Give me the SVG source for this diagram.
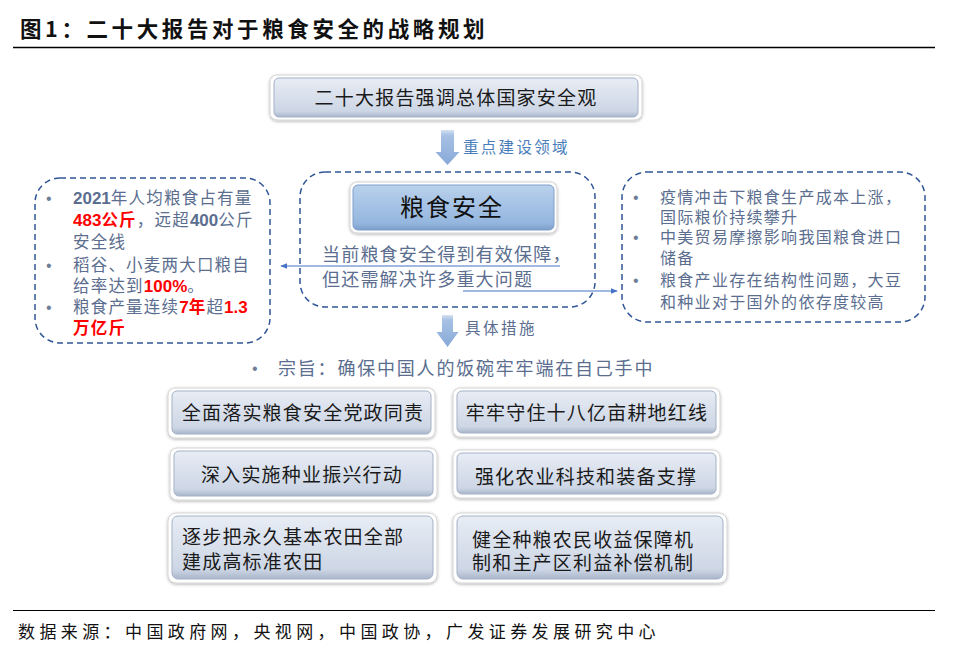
<svg xmlns="http://www.w3.org/2000/svg" width="955" height="658" viewBox="0 0 955 658">
<defs>
  <linearGradient id="gBox" x1="0" y1="0" x2="0" y2="1">
    <stop offset="0" stop-color="#e8edf5"/>
    <stop offset="0.85" stop-color="#cdd6e5"/>
    <stop offset="1" stop-color="#a9b6ca"/>
  </linearGradient>
  <linearGradient id="gCore" x1="0" y1="0" x2="0" y2="1">
    <stop offset="0" stop-color="#b9d1ec"/>
    <stop offset="0.85" stop-color="#94b6de"/>
    <stop offset="1" stop-color="#7c9dc9"/>
  </linearGradient>
  <linearGradient id="gArrow" x1="0" y1="0" x2="0" y2="1">
    <stop offset="0" stop-color="#d6e2f2"/>
    <stop offset="0.15" stop-color="#a8c1e4"/>
    <stop offset="1" stop-color="#87a9d8"/>
  </linearGradient>
  <filter id="sh" x="-10%" y="-20%" width="120%" height="150%">
    <feDropShadow dx="0" dy="1" stdDeviation="1.5" flood-color="#000" flood-opacity="0.3"/>
  </filter>
  <marker id="ah" viewBox="0 0 10 10" refX="9" refY="5" markerWidth="7" markerHeight="7" orient="auto-start-reverse" markerUnits="userSpaceOnUse">
    <path d="M0,1 L10,5 L0,9 Z" fill="#4472c4"/>
  </marker>
  <style>
    .halo{fill:#ffffff;stroke:#d4d4d4;stroke-width:1;filter:url(#sh)}
    .box{fill:url(#gBox);stroke:#a4b1c6;stroke-width:1}
    .core{fill:url(#gCore);stroke:#7e9ecb;stroke-width:1}
    .dash{fill:none;stroke:#2f5597;stroke-width:1.5;stroke-dasharray:6 4}
    .arrow{fill:url(#gArrow)}
    .conn{fill:none;stroke:#4472c4;stroke-width:1.2}
    .cjk{font-family:"Noto Sans CJK SC","Liberation Sans",sans-serif}
    .bt{font-size:19px;letter-spacing:1.2px;fill:#1a1a1a}
    .gt{fill:#5b6e8f}
    .red{fill:#ff0000;font-weight:bold}
    .num{font-family:"Liberation Sans","Noto Sans CJK SC",sans-serif;font-weight:bold}
    .lt{font-size:16.5px;letter-spacing:1.2px}
    .rt{font-size:16px;letter-spacing:1.3px}
    .dot{fill:#6f7f99}
  </style>
</defs>

<g id="title">
  <text x="20" y="37" class="cjk" font-size="21.5" font-weight="bold" letter-spacing="3.6" fill="#111">图1：二十大报告对于粮食安全的战略规划</text>
  <line x1="13" y1="47.5" x2="935" y2="47.5" stroke="#000" stroke-width="1.3"/>
</g>

<g id="node-top">
  <rect class="halo" x="270" y="75" width="372" height="45" rx="7"/>
  <rect class="box" x="274" y="78" width="364" height="39" rx="5"/>
  <text x="456" y="105" class="cjk bt" text-anchor="middle">二十大报告强调总体国家安全观</text>
</g>

<g id="arrow-1">
  <path class="arrow" d="M441,130 H454 V152 H459.5 L447.5,165 L435.5,152 H441 Z"/>
  <text x="463" y="153" class="cjk" font-size="15.5" letter-spacing="2.3" fill="#4a7ebb">重点建设领域</text>
</g>

<g id="node-center">
  <rect class="dash" x="300" y="172" width="295" height="135" rx="25"/>
  <rect class="halo" x="350" y="182" width="207" height="51" rx="7"/>
  <rect class="core" x="353" y="185" width="201" height="45" rx="5"/>
  <text x="452" y="216" class="cjk" font-size="24" letter-spacing="2" text-anchor="middle" fill="#111">粮食安全</text>
  <text x="322" y="261" class="cjk gt" font-size="18" letter-spacing="1.2">当前粮食安全得到有效保障，</text>
  <text x="322" y="286" class="cjk gt" font-size="18" letter-spacing="1.2">但还需解决许多重大问题</text>
</g>

<g id="node-left">
  <rect class="dash" x="35" y="178" width="235" height="165" rx="25"/>
  <text x="46" y="204" class="dot" font-family="Liberation Sans, sans-serif" font-size="16">•</text>
  <text x="46" y="271" class="dot" font-family="Liberation Sans, sans-serif" font-size="16">•</text>
  <text x="46" y="313" class="dot" font-family="Liberation Sans, sans-serif" font-size="16">•</text>
  <text x="73" y="204" class="cjk gt lt"><tspan class="num" font-size="17" letter-spacing="0">2021</tspan>年人均粮食占有量</text>
  <text x="73" y="226" class="cjk gt lt"><tspan class="num red" font-size="17" letter-spacing="0">483</tspan><tspan class="red">公斤</tspan>，远超<tspan class="num" font-size="17" letter-spacing="0">400</tspan>公斤</text>
  <text x="73" y="248" class="cjk gt lt">安全线</text>
  <text x="73" y="271" class="cjk gt lt">稻谷、小麦两大口粮自</text>
  <text x="73" y="292" class="cjk gt lt">给率达到<tspan class="num red" font-size="17" letter-spacing="0">100%</tspan>。</text>
  <text x="73" y="313" class="cjk gt lt">粮食产量连续<tspan class="num red" font-size="17" letter-spacing="0">7</tspan><tspan class="red">年</tspan>超<tspan class="num red" font-size="17" letter-spacing="0">1.3</tspan></text>
  <text x="73" y="334" class="cjk lt red">万亿斤</text>
</g>

<g id="node-right">
  <rect class="dash" x="622" y="172" width="303" height="150" rx="25"/>
  <text x="633" y="203" class="dot" font-family="Liberation Sans, sans-serif" font-size="16">•</text>
  <text x="633" y="243" class="dot" font-family="Liberation Sans, sans-serif" font-size="16">•</text>
  <text x="633" y="286" class="dot" font-family="Liberation Sans, sans-serif" font-size="16">•</text>
  <text x="660" y="203" class="cjk gt rt">疫情冲击下粮食生产成本上涨，</text>
  <text x="660" y="223" class="cjk gt rt">国际粮价持续攀升</text>
  <text x="660" y="243" class="cjk gt rt">中美贸易摩擦影响我国粮食进口</text>
  <text x="660" y="264" class="cjk gt rt">储备</text>
  <text x="660" y="286" class="cjk gt rt">粮食产业存在结构性问题，大豆</text>
  <text x="660" y="308" class="cjk gt rt">和种业对于国外的依存度较高</text>
</g>

<g id="connectors">
  <line class="conn" x1="560" y1="266" x2="281" y2="266" marker-end="url(#ah)"/>
  <line class="conn" x1="463" y1="291" x2="617" y2="291" marker-end="url(#ah)"/>
</g>

<g id="arrow-2">
  <path class="arrow" d="M442,315 H453 V332 H458.5 L447.5,347 L436.5,332 H442 Z"/>
  <text x="465" y="334" class="cjk gt" font-size="15.5" letter-spacing="2.5" fill="#6b7a92">具体措施</text>
</g>

<g id="aim">
  <text x="252" y="374" class="dot" font-family="Liberation Sans, sans-serif" font-size="16">•</text>
  <text x="278" y="375" class="cjk gt" font-size="18" letter-spacing="1.8">宗旨：确保中国人的饭碗牢牢端在自己手中</text>
</g>

<g id="box-1">
  <rect class="halo" x="168" y="388" width="267" height="50" rx="7"/>
  <rect class="box" x="172" y="391" width="259" height="43" rx="5"/>
  <text x="303" y="420" class="cjk bt" text-anchor="middle">全面落实粮食安全党政同责</text>
</g>
<g id="box-2">
  <rect class="halo" x="453" y="388" width="267" height="49" rx="7"/>
  <rect class="box" x="457" y="391" width="259" height="42" rx="5"/>
  <text x="587" y="420" class="cjk bt" text-anchor="middle">牢牢守住十八亿亩耕地红线</text>
</g>
<g id="box-3">
  <rect class="halo" x="170" y="448" width="267" height="52" rx="7"/>
  <rect class="box" x="174" y="451" width="259" height="45" rx="5"/>
  <text x="302" y="482" class="cjk bt" text-anchor="middle">深入实施种业振兴行动</text>
</g>
<g id="box-4">
  <rect class="halo" x="453" y="450" width="267" height="48" rx="7"/>
  <rect class="box" x="457" y="453" width="259" height="41" rx="5"/>
  <text x="586" y="484" class="cjk bt" text-anchor="middle">强化农业科技和装备支撑</text>
</g>
<g id="box-5">
  <rect class="halo" x="168" y="513" width="269" height="70" rx="8"/>
  <rect class="box" x="172" y="516" width="261" height="63" rx="6"/>
  <text x="182" y="544" class="cjk bt">逐步把永久基本农田全部</text>
  <text x="182" y="569" class="cjk bt">建成高标准农田</text>
</g>
<g id="box-6">
  <rect class="halo" x="453" y="513" width="274" height="70" rx="8"/>
  <rect class="box" x="457" y="516" width="266" height="63" rx="6"/>
  <text x="472" y="547" class="cjk bt" font-size="18" letter-spacing="0.9">健全种粮农民收益保障机</text>
  <text x="472" y="570" class="cjk bt" font-size="18" letter-spacing="0.9">制和主产区利益补偿机制</text>
</g>

<g id="footer">
  <line x1="13" y1="610.5" x2="935" y2="610.5" stroke="#000" stroke-width="1.2"/>
  <text x="18" y="638" class="cjk" font-size="17" letter-spacing="4.4" fill="#111">数据来源：中国政府网，央视网，中国政协，广发证券发展研究中心</text>
</g>
</svg>
